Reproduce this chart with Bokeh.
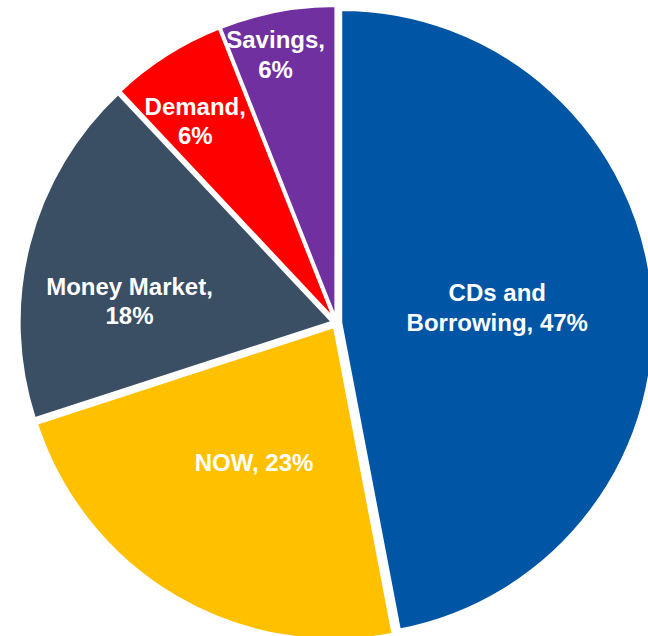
import numpy as np
from bokeh.plotting import figure
from bokeh.models import ColumnDataSource, Range1d
from bokeh.core.properties import value
from bokeh.embed import file_html
from bokeh.resources import INLINE

# ---- data ----
categories = ["CDs and Borrowing", "NOW", "Money Market", "Demand", "Savings"]
shares = [47, 23, 18, 6, 6]
label_texts = ["CDs and\nBorrowing, 47%", "NOW, 23%", "Money Market,\n18%", "Demand,\n6%", "Savings,\n6%"]

# ---- style / layout ----
colors = ["#0055A4", "#FFC000", "#3A4E64", "#FF0000", "#7030A0"]
label_frac = [0.504, 0.506, 0.654, 0.777, 0.87]        # label distance as fraction of radius
label_shift = [0.0, 0.0, -8.5, -2.6, -2.0]              # label angle shift (clock degrees)

W, H = 648, 636
CX, CY = 336.0, 313.5      # pie centre (px within plot, y up)
R_VIS = 311.5
LW = 2.5
EXPLODE = 4.5

vals = np.array(shares, dtype=float)
frac = vals / vals.sum()
end_clock = np.cumsum(frac) * 360.0
start_clock = end_clock - frac * 360.0
mid_clock = (start_clock + end_clock) / 2.0
mid_rad = np.deg2rad(90.0 - mid_clock)

xs = CX + EXPLODE * np.cos(mid_rad)
ys = CY + EXPLODE * np.sin(mid_rad)

src = ColumnDataSource(dict(
    cat=categories,
    x=xs, y=ys,
    start=np.deg2rad(90.0 - end_clock),
    end=np.deg2rad(90.0 - start_clock),
    color=colors,
))

lab_ang = np.deg2rad(90.0 - (mid_clock + np.array(label_shift)))
lab_r = np.array(label_frac) * R_VIS
lsrc = ColumnDataSource(dict(
    x=xs + lab_r * np.cos(lab_ang),
    y=ys + lab_r * np.sin(lab_ang),
    text=label_texts,
))

p = figure(width=W, height=H, x_range=Range1d(0, W), y_range=Range1d(0, H),
           x_axis_type=None, y_axis_type=None, toolbar_location=None,
           output_backend="svg", min_border=0)
p.outline_line_color = None
p.grid.visible = False
p.background_fill_color = "white"
p.border_fill_color = "white"

p.wedge(x="x", y="y", radius=R_VIS + LW / 2, start_angle="start", end_angle="end",
        direction="anticlock", fill_color="color",
        line_color="white", line_width=LW, source=src)

p.text(x="x", y="y", text="text", source=lsrc, text_color="white",
       text_font=value("Liberation Sans"), text_font_style="bold",
       text_font_size="24px", text_align="center", text_baseline="middle",
       text_line_height=1.1)

open("out.html", "w").write(file_html(p, INLINE))
